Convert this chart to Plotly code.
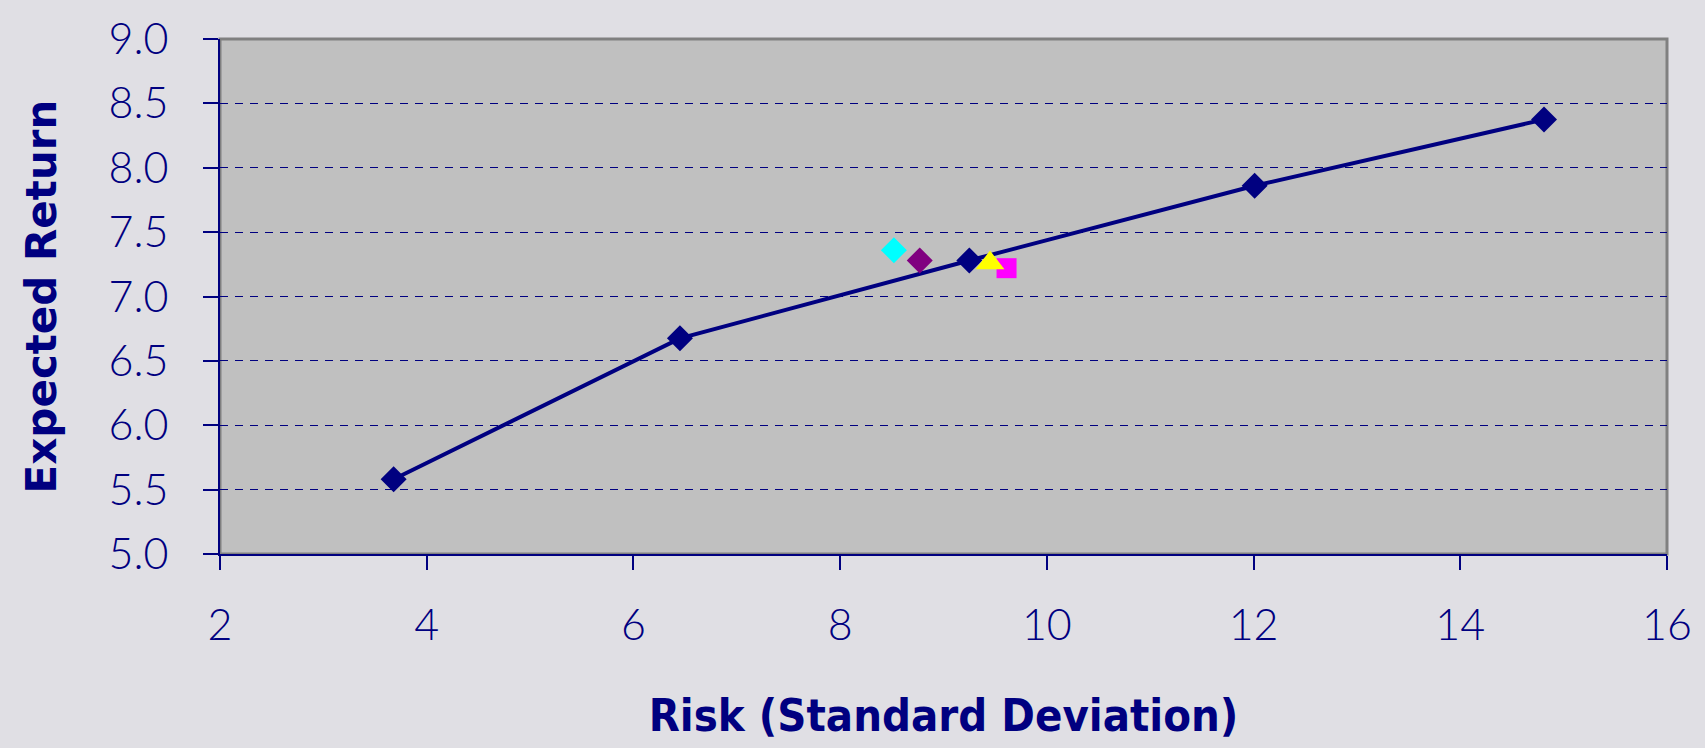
import plotly.graph_objects as go

# Efficient frontier points
frontier_risk = [3.68, 6.45, 9.25, 12.01, 14.81]
frontier_return = [5.58, 6.675, 7.28, 7.86, 8.375]

# Individual portfolios
cyan_risk, cyan_return = [8.52], [7.36]
purple_risk, purple_return = [8.77], [7.28]
magenta_risk, magenta_return = [9.61], [7.22]
yellow_risk, yellow_return = [9.45], [7.26]

y_ticks = [5.0, 5.5, 6.0, 6.5, 7.0, 7.5, 8.0, 8.5, 9.0]
x_ticks = [2, 4, 6, 8, 10, 12, 14, 16]

NAVY = "#000080"

fig = go.Figure()
fig.add_trace(go.Scatter(x=frontier_risk, y=frontier_return, mode="lines+markers",
                         line=dict(color=NAVY, width=4),
                         marker=dict(symbol="diamond", size=20, color=NAVY)))
fig.add_trace(go.Scatter(x=magenta_risk, y=magenta_return, mode="markers",
                         marker=dict(symbol="square", size=20, color="#FF00FF")))
fig.add_trace(go.Scatter(x=yellow_risk, y=yellow_return, mode="markers",
                         marker=dict(symbol="triangle-up", size=25, color="#FFFF00")))
fig.add_trace(go.Scatter(x=cyan_risk, y=cyan_return, mode="markers",
                         marker=dict(symbol="diamond", size=20, color="#00FFFF")))
fig.add_trace(go.Scatter(x=purple_risk, y=purple_return, mode="markers",
                         marker=dict(symbol="diamond", size=20, color="#800080")))

fig.add_shape(type="rect", xref="paper", yref="paper", x0=0, y0=0, x1=1, y1=1,
              line=dict(color="#808080", width=3), layer="below")

fig.update_layout(
    width=1705, height=748,
    margin=dict(l=220, r=38, t=32, b=194),
    paper_bgcolor="#E0DFE4",
    plot_bgcolor="#C0C0C0",
    showlegend=False,
    hovermode=False,
    xaxis=dict(range=[2, 16], tickvals=x_ticks, showgrid=False, zeroline=False,
               showline=True, linecolor=NAVY, linewidth=2,
               ticks="outside", ticklen=14, tickcolor=NAVY, tickwidth=1.5,
               ticklabelstandoff=18,
               tickfont=dict(family="Lato", size=43, color=NAVY, weight=300),
               title=dict(text="Risk (Standard Deviation)", standoff=52,
                          font=dict(family="DejaVu Sans Condensed", size=45, color=NAVY,
                                    weight="bold"))),
    yaxis=dict(range=[5, 9], tickvals=y_ticks, tickformat=".1f",
               showgrid=True, gridcolor=NAVY, gridwidth=1, griddash="8px,7px",
               zeroline=False, showline=True, linecolor=NAVY, linewidth=2,
               ticks="outside", ticklen=15, tickcolor=NAVY, tickwidth=1.5,
               ticklabelstandoff=26,
               tickfont=dict(family="Lato", size=43, color=NAVY, weight=300),
               title=dict(text="Expected Return", standoff=39,
                          font=dict(family="DejaVu Sans", size=42, color=NAVY, weight="bold"))),
)

fig.write_html("out.html", config={"displayModeBar": False},
               post_script="document.body.style.margin='0';document.body.style.background='#E0DFE4';")
